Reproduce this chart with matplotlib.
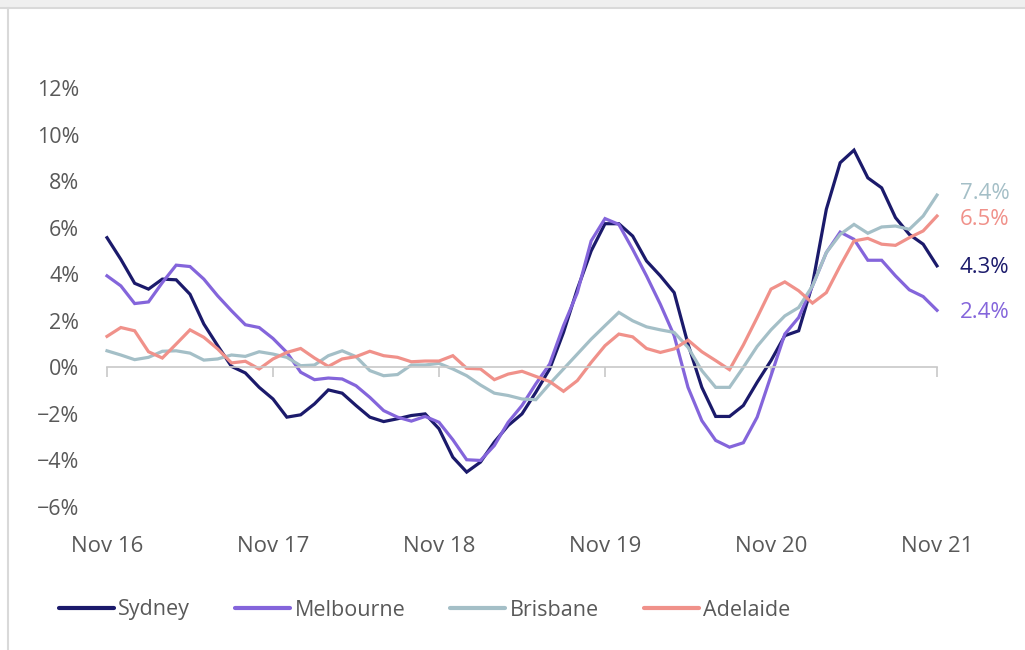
import matplotlib
matplotlib.use("Agg")
import matplotlib.pyplot as plt
import matplotlib.transforms as mtransforms
from matplotlib.patches import Rectangle
from matplotlib.lines import Line2D

plt.rcParams['font.family'] = ['Open Sans', 'DejaVu Sans']

x_labels = ["Nov 16", "Nov 17", "Nov 18", "Nov 19", "Nov 20", "Nov 21"]
y_ticks = [-6, -4, -2, 0, 2, 4, 6, 8, 10, 12]

sydney = [5.57, 4.64, 3.61, 3.36, 3.79, 3.76, 3.14, 1.86, 0.93, 0.04,
          -0.24, -0.86, -1.36, -2.14, -2.04, -1.57, -0.97, -1.11, -1.64, -2.14,
          -2.33, -2.21, -2.07, -2.0, -2.64, -3.86, -4.5, -4.07, -3.21, -2.5,
          -2.0, -1.07, -0.07, 1.5, 3.36, 5.0, 6.17, 6.17, 5.64, 4.57,
          3.93, 3.21, 1.0, -0.86, -2.11, -2.11, -1.64, -0.64, 0.29, 1.36,
          1.57, 3.57, 6.79, 8.79, 9.33, 8.14, 7.71, 6.43, 5.71, 5.29, 4.36]
melbourne = [3.93, 3.5, 2.74, 2.81, 3.64, 4.39, 4.33, 3.79, 3.07, 2.43,
             1.83, 1.71, 1.24, 0.64, -0.21, -0.53, -0.46, -0.5, -0.79, -1.29,
             -1.86, -2.14, -2.31, -2.11, -2.36, -3.11, -3.97, -4.0, -3.36, -2.36,
             -1.64, -0.71, 0.14, 1.79, 3.21, 5.43, 6.39, 6.14, 5.07, 3.93,
             2.71, 1.36, -0.86, -2.29, -3.14, -3.43, -3.24, -2.14, -0.36, 1.43,
             2.14, 3.5, 4.93, 5.81, 5.5, 4.6, 4.6, 3.93, 3.33, 3.04, 2.45]
brisbane = [0.71, 0.53, 0.33, 0.43, 0.69, 0.71, 0.61, 0.31, 0.36, 0.53,
            0.47, 0.67, 0.57, 0.43, 0.07, 0.1, 0.5, 0.71, 0.46, -0.14,
            -0.36, -0.31, 0.1, 0.1, 0.17, -0.07, -0.36, -0.76, -1.11, -1.21,
            -1.36, -1.39, -0.71, -0.07, 0.57, 1.21, 1.79, 2.36, 2.0, 1.74,
            1.61, 1.5, 0.86, -0.14, -0.86, -0.86, 0.0, 0.9, 1.61, 2.21,
            2.57, 3.5, 4.93, 5.71, 6.14, 5.76, 6.03, 6.07, 5.93, 6.5, 7.4]
adelaide = [1.33, 1.71, 1.57, 0.67, 0.4, 1.0, 1.61, 1.29, 0.79, 0.19,
            0.26, -0.07, 0.36, 0.64, 0.81, 0.4, 0.04, 0.36, 0.46, 0.69,
            0.5, 0.43, 0.24, 0.27, 0.27, 0.5, -0.04, -0.07, -0.53, -0.29,
            -0.17, -0.39, -0.61, -1.03, -0.57, 0.21, 0.93, 1.43, 1.31, 0.81,
            0.64, 0.79, 1.17, 0.67, 0.29, -0.1, 0.96, 2.14, 3.36, 3.67,
            3.29, 2.76, 3.21, 4.36, 5.43, 5.54, 5.29, 5.24, 5.57, 5.86, 6.5]

series = [("Sydney", sydney, "#1b1a6b"),
          ("Melbourne", melbourne, "#8465db"),
          ("Brisbane", brisbane, "#a4bfc7"),
          ("Adelaide", adelaide, "#f0918a")]
end_labels = {"Sydney": "4.3%", "Melbourne": "2.4%", "Brisbane": "7.4%", "Adelaide": "6.5%"}
label_y = {"Brisbane": 7.45, "Adelaide": 6.35, "Sydney": 4.3, "Melbourne": 2.35}

W, H = 1025, 650
fig = plt.figure(figsize=(W / 100, H / 100), dpi=100)

# frame decorations
fig.patches.append(Rectangle((0, (H - 7) / H), 1, 7 / H, transform=fig.transFigure,
                             facecolor="#efefef", edgecolor="none"))
fig.add_artist(Line2D([0, 1], [(H - 8) / H] * 2, transform=fig.transFigure, color="#d9d9d9", lw=1.5))
fig.add_artist(Line2D([7.5 / W] * 2, [0, (H - 8) / H], transform=fig.transFigure, color="#d9d9d9", lw=1.5))

left, right = 107 / W, 937 / W
bottom, top = (H - 507) / H, (H - 88) / H
ax = fig.add_axes([left, bottom, right - left, top - bottom])

n = len(sydney)
xs = list(range(n))
for name, vals, col in series:
    ax.plot(xs, vals, color=col, lw=2.3, label=name, clip_on=False, solid_joinstyle="miter")

ax.set_xlim(0, n - 1)
ax.set_ylim(-6, 12)

for s in ["top", "right", "left"]:
    ax.spines[s].set_visible(False)
ax.spines["bottom"].set_position(("data", 0))
ax.spines["bottom"].set_color("#c8c8c8")
ax.spines["bottom"].set_linewidth(1.2)

tick_pos = [i * 12 for i in range(len(x_labels))]
ax.set_xticks(tick_pos)
ax.tick_params(axis="x", direction="out", length=7, width=1.2, color="#c8c8c8", labelbottom=False)

ax.set_yticks(y_ticks)
ax.set_yticklabels([f"{v}%".replace("-", "\u2212") for v in y_ticks])
ax.tick_params(axis="y", length=0, pad=20, labelsize=15.5, labelcolor="#595959")

trans = mtransforms.blended_transform_factory(ax.transData, fig.transFigure)
for p, lab in zip(tick_pos, x_labels):
    ax.text(p, (H - 547) / H, lab, transform=trans, ha="center", va="center",
            fontsize=16, color="#595959")

for name, vals, col in series:
    ax.text(n - 1 + 1.65, label_y[name], end_labels[name], color=col, fontsize=16,
            ha="left", va="center", clip_on=False)

handles = [Line2D([0], [0], color=c, lw=3, solid_capstyle="round") for _, _, c in series]
leg = fig.legend(handles, [s[0] for s in series], loc="center left",
                 bbox_to_anchor=(59 / W, (H - 610) / H), ncol=4, frameon=False,
                 fontsize=15.5, handlelength=2.55, handletextpad=0.2, columnspacing=2.1,
                 borderpad=0, borderaxespad=0, labelcolor="#595959")

fig.savefig("out.png", dpi=100, facecolor="white")
